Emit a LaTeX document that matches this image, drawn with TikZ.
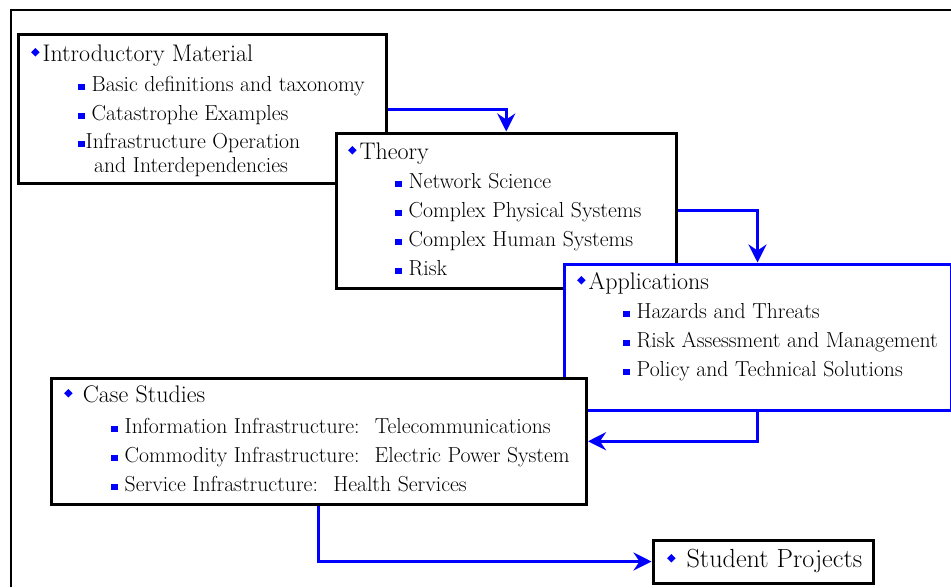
\documentclass[tikz,border=0pt]{standalone}
\usepackage{fontspec}
\usepackage{graphicx}
\usetikzlibrary{
  arrows.meta,
  positioning
}

\newcommand{\headbul}{\textcolor{blue}{\raisebox{4.5pt}{\rotatebox{45}{\rule{6pt}{6pt}}}}\hspace{3pt}}
\newcommand{\itembul}{\textcolor{blue}{\rule[1pt]{6.5pt}{6.5pt}}\hspace{7pt}}

\begin{document}
\begin{tikzpicture}[
  x=1pt, y=-1pt,
  box/.style = {draw, line width=3pt, fill=white,
    anchor=north west, inner sep=0pt},
  head/.style = {anchor=base west, inner sep=0pt,
    font=\fontsize{24}{28}\selectfont},
  item/.style = {anchor=base west, inner sep=0pt,
    font=\fontsize{21.7}{26}\selectfont},
  flow/.style = {draw=blue, line width=3pt,
    -{Stealth[length=18pt, width=18pt, inset=6pt]}}]
  \useasboundingbox (0,0) rectangle (951,587);
  \draw[line width=2pt] (11,587) -- (11,10) -- (951,10);

  % boxes
  \node[box, minimum width=368, minimum height=149] (intro) at (17,33) {};
  \node[head] (intro-head) at (31,61) {\headbul Introductory Material};
  \foreach \t [count=\i] in {Basic definitions and taxonomy, Catastrophe Examples}
    \node[item] (intro-\i) at (78,62+29*\i) {\itembul\t};
  \node[item] (intro-3) at (78,148)
    {\textcolor{blue}{\rule[1pt]{6.5pt}{6.5pt}}\hspace{1pt}Infrastructure Operation};
  \node[item] (intro-4) at (94,172) {and Interdependencies};

  \node[box, minimum width=340.5, minimum height=155] (theory) at (334.5,131.5) {};
  \node[head] (theory-head) at (348,159) {\headbul Theory};
  \foreach \t [count=\i] in {Network Science, Complex Physical Systems,
      Complex Human Systems, Risk}
    \node[item] (theory-\i) at (395,159+29*\i) {\itembul\t};

  \node[box, draw=blue, minimum width=387, minimum height=146] (apps) at (562.5,262.5) {};
  \node[head] (apps-head) at (577,289) {\headbul Applications};
  \foreach \t [count=\i] in {Hazards and Threats, Risk Assessment and Management,
      Policy and Technical Solutions}
    \node[item] (apps-\i) at (623,289+29*\i) {\itembul\t};

  \node[box, minimum width=535.5, minimum height=126.5] (case) at (49.5,376.5) {};
  \node[head] (case-head) at (64,402) {\headbul\ Case Studies};
  \foreach \t [count=\i] in {Information Infrastructure:~ Telecommunications,
      Commodity Infrastructure:~ Electric Power System,
      Service Infrastructure:~ Health Services}
    \node[item] (case-\i) at (111,404+29*\i) {\itembul\t};

  \node[box, minimum width=220, minimum height=43] (student) at (651.5,538.5) {};
  \node[head, font=\fontsize{26.2}{31}\selectfont] (student-head) at (667,567)
    {\headbul\ Student Projects};

  % flow
  \draw[flow] (intro.east) -| (theory.north);
  \draw[flow] (theory.east) -| (apps.north);
  \draw[flow] (apps.south) |- (case.east);
  \draw[flow] (case.south) |- (student.west);
\end{tikzpicture}
\end{document}
